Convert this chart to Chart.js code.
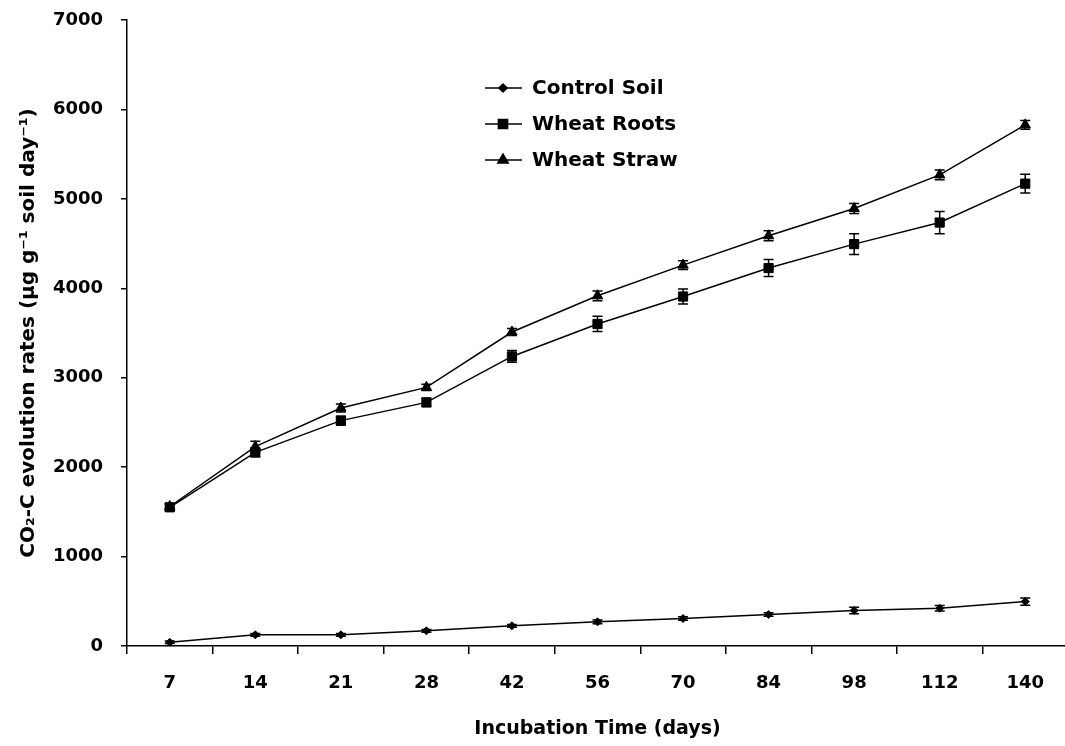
<!DOCTYPE html>
<html>
<head>
<meta charset="utf-8">
<script src="https://cdn.jsdelivr.net/npm/chart.js@4/dist/chart.umd.min.js"></script>
<style>
  html, body { margin: 0; padding: 0; background: #fff; overflow: hidden; }
  canvas { display: block; }
</style>
</head>
<body>
<canvas id="myChart" width="1068" height="746"></canvas>
<script>
const days = ['7', '14', '21', '28', '42', '56', '70', '84', '98', '112', '140'];

const controlSoil = [42, 125, 125, 170, 226, 270, 307, 352, 397, 422, 497];
const wheatRoots = [1551, 2165, 2520, 2724, 3238, 3601, 3908, 4226, 4494, 4735, 5170];
const wheatStraw = [1560, 2229, 2661, 2892, 3511, 3916, 4259, 4587, 4892, 5268, 5827];

const controlErr = [15, 15, 15, 15, 15, 20, 20, 20, 35, 30, 40];
const rootsErr = [40, 50, 50, 45, 65, 85, 85, 95, 115, 125, 105];
const strawErr = [30, 60, 45, 35, 40, 55, 50, 55, 55, 55, 50];

const yTicks = [0, 1000, 2000, 3000, 4000, 5000, 6000, 7000];

const FONT = "'DejaVu Sans', 'Liberation Sans', Arial, sans-serif";

// vertical error bars with caps, drawn from each dataset's errors array
const errorBars = {
    id: 'errorBars',
    afterDatasetsDraw(chart) {
        const ctx = chart.ctx;
        const y = chart.scales.y;
        ctx.save();
        ctx.strokeStyle = '#000';
        ctx.lineWidth = 1.5;
        chart.data.datasets.forEach((ds, i) => {
            const meta = chart.getDatasetMeta(i);
            meta.data.forEach((pt, j) => {
                const e = ds.errors[j];
                const top = y.getPixelForValue(ds.data[j] + e);
                const bot = y.getPixelForValue(ds.data[j] - e);
                ctx.beginPath();
                ctx.moveTo(pt.x, top);
                ctx.lineTo(pt.x, bot);
                ctx.moveTo(pt.x - 5, top);
                ctx.lineTo(pt.x + 5, top);
                ctx.moveTo(pt.x - 5, bot);
                ctx.lineTo(pt.x + 5, bot);
                ctx.stroke();
            });
        });
        ctx.restore();
    }
};

// legend inside the plot, like the original
const insideLegend = {
    id: 'insideLegend',
    afterDraw(chart, args, opts) {
        const ctx = chart.ctx;
        ctx.save();
        ctx.font = 'bold 20px ' + FONT;
        ctx.textBaseline = 'middle';
        chart.data.datasets.forEach((ds, i) => {
            const yy = opts.y + i * opts.step;
            ctx.strokeStyle = '#000';
            ctx.lineWidth = 1.5;
            ctx.beginPath();
            ctx.moveTo(opts.x, yy);
            ctx.lineTo(opts.x + 37, yy);
            ctx.stroke();
            ctx.fillStyle = '#000';
            Chart.helpers.drawPoint(ctx, {
                pointStyle: ds.pointStyle,
                radius: ds.pointRadius,
                rotation: 0,
                borderWidth: 1
            }, opts.x + 18, yy);
            ctx.fillStyle = '#000';
            ctx.fillText(ds.label, opts.x + 47, yy + 1);
        });
        ctx.restore();
    }
};

function makeSet(label, data, errors, style, radius) {
    return {
        label: label,
        data: data,
        errors: errors,
        borderColor: '#000',
        backgroundColor: '#000',
        borderWidth: 1.5,
        pointStyle: style,
        pointRadius: radius,
        pointHoverRadius: radius,
        pointBackgroundColor: '#000',
        pointBorderColor: '#000',
        pointBorderWidth: 1,
        tension: 0,
        fill: false,
        clip: false
    };
}

const ctx = document.getElementById('myChart').getContext('2d');
const myChart = new Chart(ctx, {
    type: 'line',
    data: {
        labels: days,
        datasets: [
            makeSet('Control Soil', controlSoil, controlErr, 'rectRot', 4),
            makeSet('Wheat Roots', wheatRoots, rootsErr, 'rect', 6.5),
            makeSet('Wheat Straw', wheatStraw, strawErr, 'triangle', 6)
        ]
    },
    options: {
        responsive: false,
        animation: false,
        layout: { autoPadding: false, padding: { top: 20, right: 0, bottom: 0, left: 0 } },
        plugins: {
            legend: { display: false },
            tooltip: { enabled: false },
            insideLegend: { x: 485, y: 88, step: 36 }
        },
        scales: {
            x: {
                offset: true,
                grid: {
                    offset: true,
                    drawOnChartArea: false,
                    color: '#000',
                    lineWidth: 1.5,
                    tickLength: 8
                },
                border: { color: '#000', width: 1.5 },
                ticks: {
                    color: '#000',
                    padding: 19,
                    font: { family: FONT, size: 18, weight: 'bold' }
                },
                title: {
                    display: true,
                    text: 'Incubation Time (days)',
                    color: '#000',
                    padding: { top: 0, bottom: 6 },
                    font: { family: FONT, size: 19, weight: 'bold' }
                },
                afterFit(scale) {
                    scale.height = 100;
                    scale.paddingLeft = 0;
                    scale.paddingRight = 0;
                }
            },
            y: {
                min: 0,
                max: 7000,
                afterBuildTicks(scale) {
                    scale.ticks = yTicks.map(v => ({ value: v }));
                },
                grid: {
                    drawOnChartArea: false,
                    color: '#000',
                    lineWidth: 1.5,
                    tickLength: 6
                },
                border: { color: '#000', width: 1.5 },
                ticks: {
                    color: '#000',
                    padding: 18,
                    callback: v => String(v),
                    font: { family: FONT, size: 18, weight: 'bold' }
                },
                title: {
                    display: true,
                    text: 'CO\u2082-C evolution rates (\u00b5g g\u207b\u00b9 soil day\u207b\u00b9)',
                    color: '#000',
                    padding: { top: 17, bottom: 0 },
                    font: { family: FONT, size: 20, weight: 'bold' }
                },
                afterFit(scale) {
                    scale.width = 127;
                    scale.paddingTop = 0;
                    scale.paddingBottom = 0;
                }
            }
        }
    },
    plugins: [errorBars, insideLegend]
});
</script>
</body>
</html>
